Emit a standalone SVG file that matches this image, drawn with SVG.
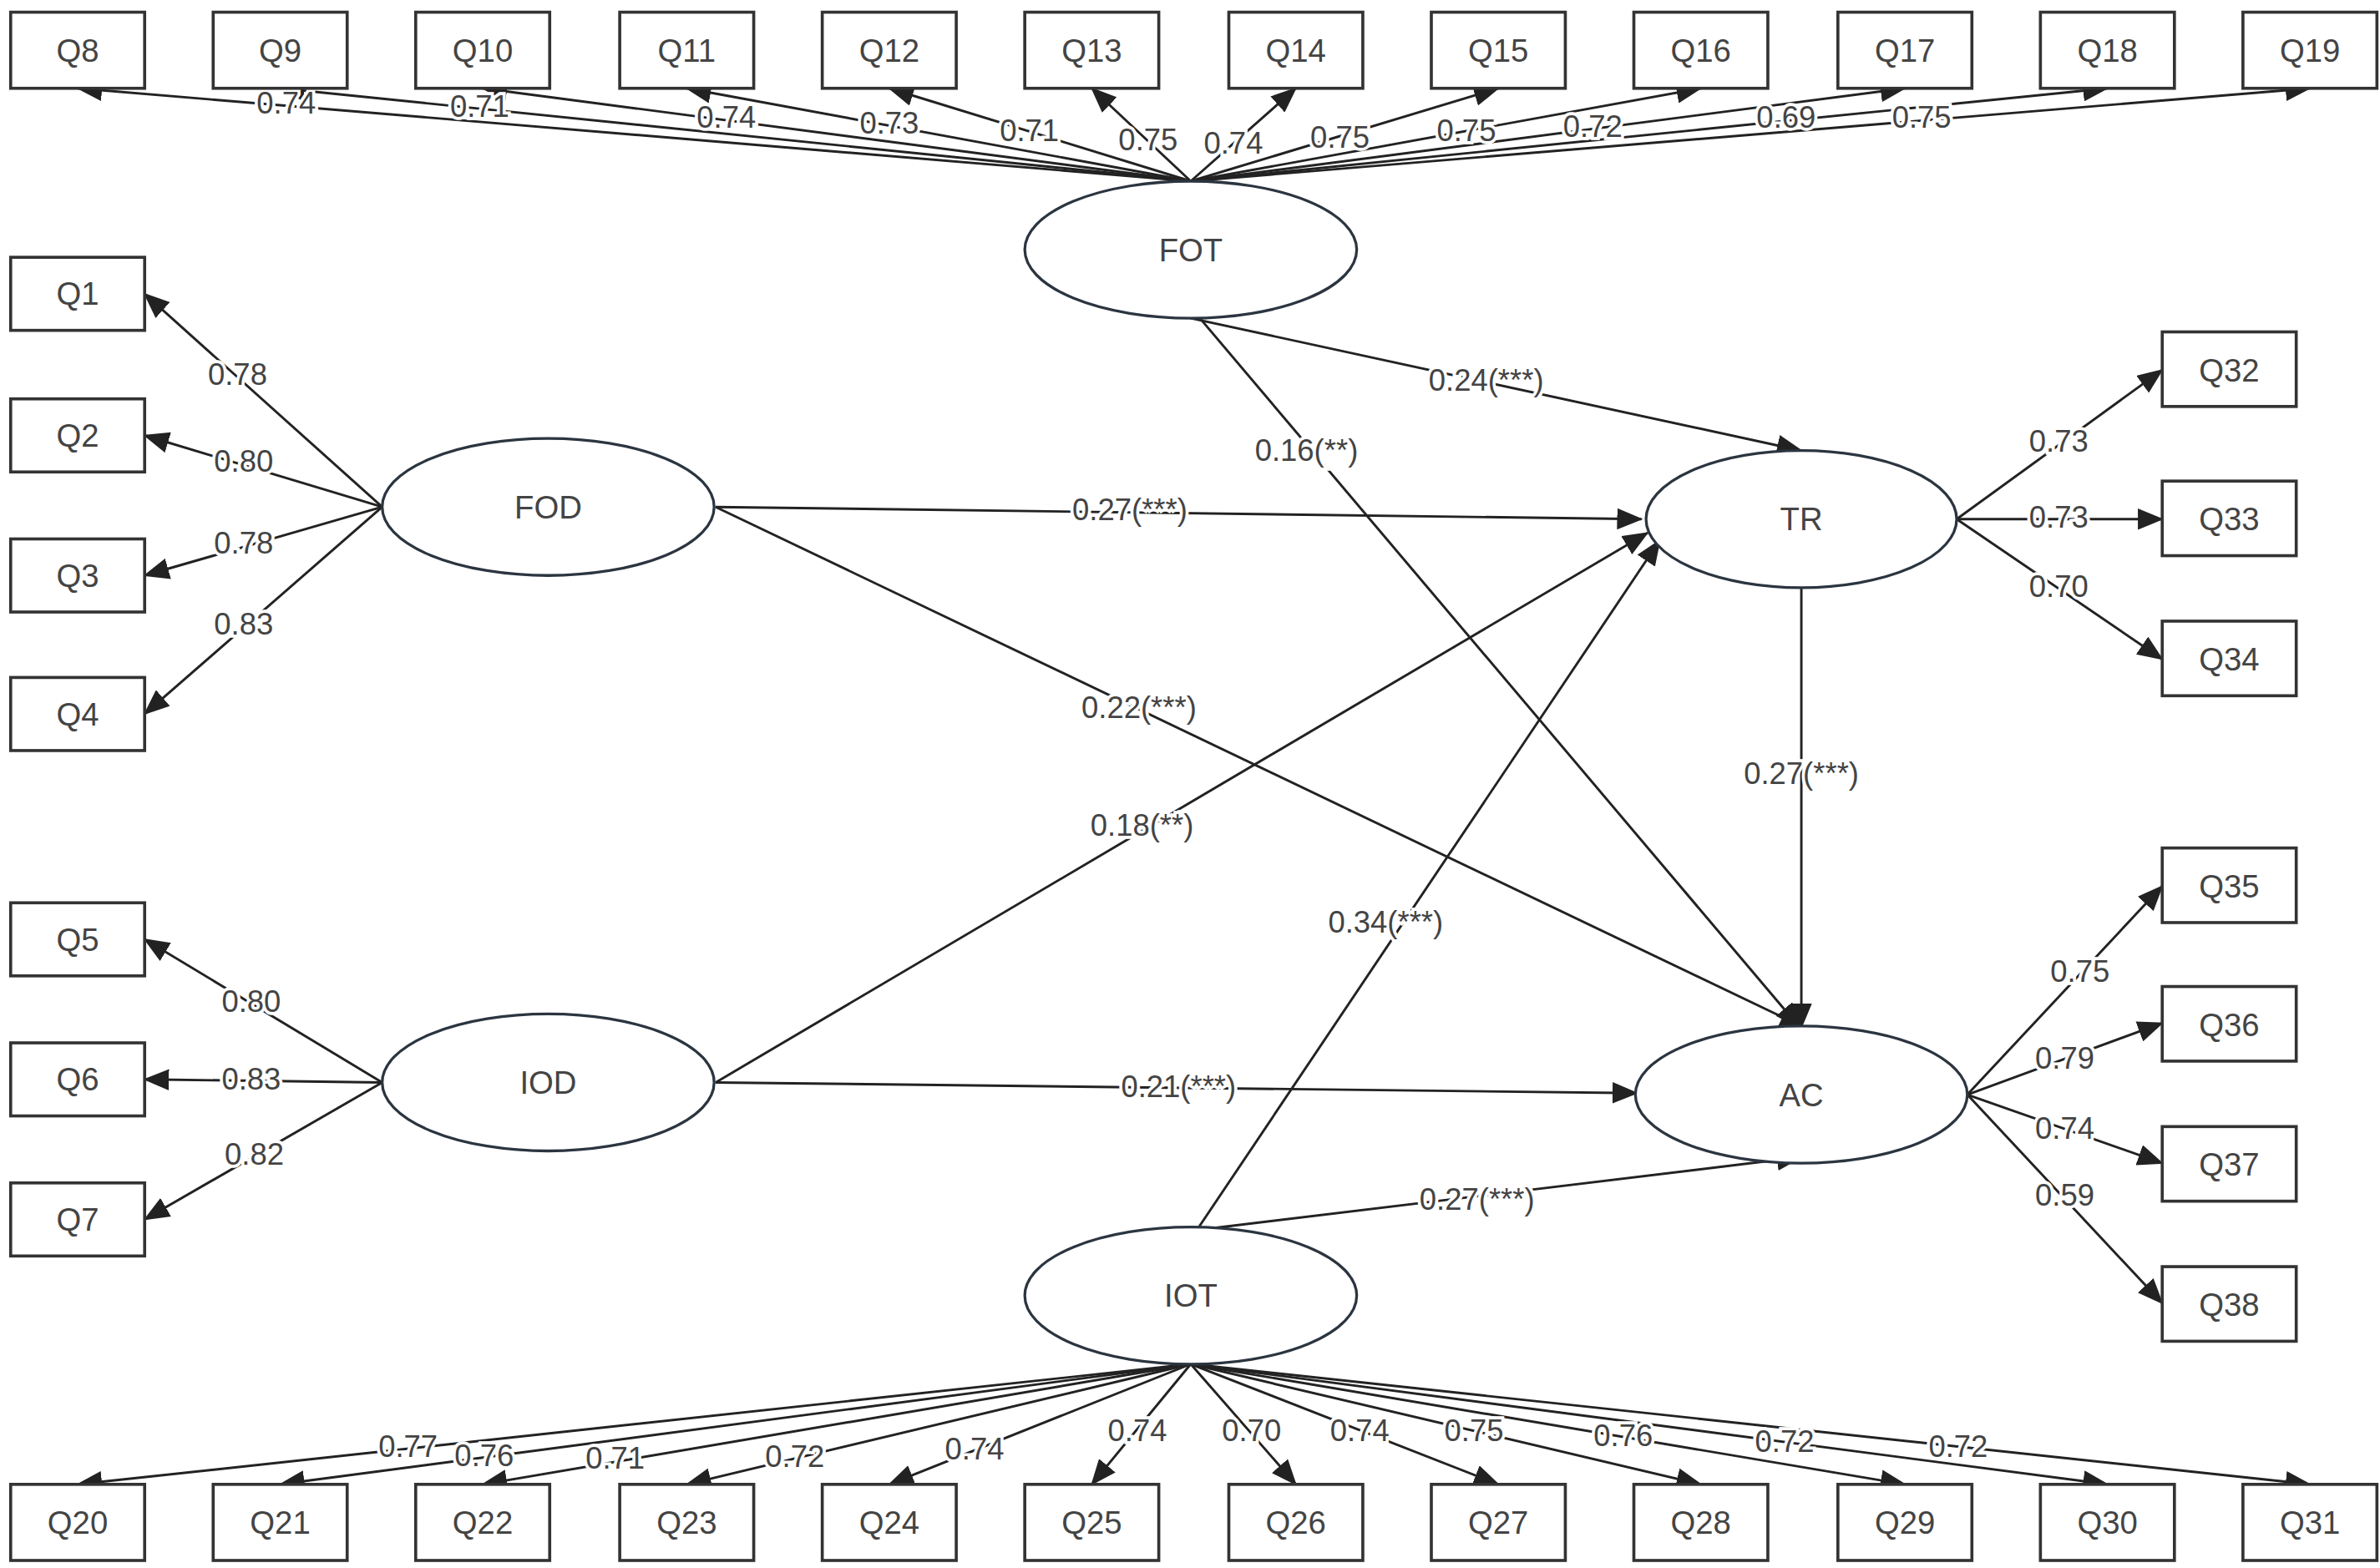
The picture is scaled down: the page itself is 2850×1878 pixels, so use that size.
<svg xmlns="http://www.w3.org/2000/svg" width="2850" height="1878" viewBox="0 0 2850 1878">
<style>
.b{fill:#fff;stroke:#333;stroke-width:2}
.e{fill:#fff;stroke:#2b3540;stroke-width:1.8}
.t{font-family:"Liberation Sans",Arial,sans-serif;font-size:21px;fill:#444;text-anchor:middle;dominant-baseline:central}
.l{font-family:"Liberation Sans",Arial,sans-serif;font-size:20px;fill:#444;text-anchor:middle;dominant-baseline:central;stroke:#fff;stroke-width:4;paint-order:stroke}
#c line{stroke:#222;stroke-width:1.6;marker-end:url(#a)}
</style>
<defs><marker id="a" markerUnits="userSpaceOnUse" markerWidth="18" markerHeight="14" refX="16" refY="7" orient="auto"><path d="M0,0 L17,7 L0,14 Z" fill="#222"/></marker></defs>
<rect width="2850" height="1878" fill="#fff"/>
<g transform="scale(1.8234)">
<g id="c">
<line x1="782" y1="119" x2="51" y2="58"/><line x1="782" y1="119" x2="184" y2="58"/><line x1="782" y1="119" x2="317" y2="58"/><line x1="782" y1="119" x2="451" y2="58"/><line x1="782" y1="119" x2="584" y2="58"/><line x1="782" y1="119" x2="717" y2="58"/><line x1="782" y1="119" x2="851" y2="58"/><line x1="782" y1="119" x2="984" y2="58"/><line x1="782" y1="119" x2="1117" y2="58"/><line x1="782" y1="119" x2="1251" y2="58"/><line x1="782" y1="119" x2="1384" y2="58"/><line x1="782" y1="119" x2="1517" y2="58"/>
<line x1="782" y1="896" x2="51" y2="975"/><line x1="782" y1="896" x2="184" y2="975"/><line x1="782" y1="896" x2="317" y2="975"/><line x1="782" y1="896" x2="451" y2="975"/><line x1="782" y1="896" x2="584" y2="975"/><line x1="782" y1="896" x2="717" y2="975"/><line x1="782" y1="896" x2="851" y2="975"/><line x1="782" y1="896" x2="984" y2="975"/><line x1="782" y1="896" x2="1117" y2="975"/><line x1="782" y1="896" x2="1251" y2="975"/><line x1="782" y1="896" x2="1384" y2="975"/><line x1="782" y1="896" x2="1517" y2="975"/>
<line x1="251" y1="333" x2="95" y2="193"/><line x1="251" y1="333" x2="95" y2="286"/><line x1="251" y1="333" x2="95" y2="378"/><line x1="251" y1="333" x2="95" y2="469"/>
<line x1="251" y1="711" x2="95" y2="617"/><line x1="251" y1="711" x2="95" y2="709"/><line x1="251" y1="711" x2="95" y2="801"/>
<line x1="1285" y1="341" x2="1420" y2="243"/><line x1="1285" y1="341" x2="1420" y2="341"/><line x1="1285" y1="341" x2="1420" y2="433"/>
<line x1="1292" y1="719" x2="1420" y2="582"/><line x1="1292" y1="719" x2="1420" y2="672"/><line x1="1292" y1="719" x2="1420" y2="764"/><line x1="1292" y1="719" x2="1420" y2="856"/>
<line x1="782" y1="209" x2="1183" y2="296"/><line x1="788" y1="209" x2="1182" y2="675"/><line x1="470" y1="333" x2="1078" y2="341"/><line x1="470" y1="333" x2="1185" y2="675"/><line x1="470" y1="711" x2="1082" y2="350"/><line x1="470" y1="711" x2="1075" y2="718"/><line x1="786" y1="808" x2="1090" y2="355"/><line x1="786" y1="808" x2="1183" y2="760"/><line x1="1183" y1="386" x2="1183" y2="675"/>
<g>
<text class="l" x="188" y="68">0.74</text><text class="l" x="315" y="70">0.71</text><text class="l" x="477" y="77">0.74</text><text class="l" x="584" y="81">0.73</text><text class="l" x="676" y="86">0.71</text><text class="l" x="754" y="92">0.75</text><text class="l" x="810" y="94">0.74</text><text class="l" x="880" y="90">0.75</text><text class="l" x="963" y="86">0.75</text><text class="l" x="1046" y="83">0.72</text><text class="l" x="1173" y="77">0.69</text><text class="l" x="1262" y="77">0.75</text>
<text class="l" x="268" y="950">0.77</text><text class="l" x="318" y="956">0.76</text><text class="l" x="404" y="958">0.71</text><text class="l" x="522" y="957">0.72</text><text class="l" x="640" y="952">0.74</text><text class="l" x="747" y="940">0.74</text><text class="l" x="822" y="940">0.70</text><text class="l" x="893" y="940">0.74</text><text class="l" x="968" y="940">0.75</text><text class="l" x="1066" y="943">0.76</text><text class="l" x="1172" y="947">0.72</text><text class="l" x="1286" y="950">0.72</text>
<text class="l" x="156" y="246">0.78</text><text class="l" x="160" y="303">0.80</text><text class="l" x="160" y="357">0.78</text><text class="l" x="160" y="410">0.83</text>
<text class="l" x="165" y="658">0.80</text><text class="l" x="165" y="709">0.83</text><text class="l" x="167" y="758">0.82</text>
<text class="l" x="1352" y="290">0.73</text><text class="l" x="1352" y="340">0.73</text><text class="l" x="1352" y="385">0.70</text>
<text class="l" x="1366" y="638">0.75</text><text class="l" x="1356" y="695">0.79</text><text class="l" x="1356" y="741">0.74</text><text class="l" x="1356" y="785">0.59</text>
<text class="l" x="976" y="250">0.24(***)</text><text class="l" x="858" y="296">0.16(**)</text><text class="l" x="742" y="335">0.27(***)</text><text class="l" x="748" y="465">0.22(***)</text><text class="l" x="750" y="542">0.18(**)</text><text class="l" x="774" y="714">0.21(***)</text><text class="l" x="910" y="606">0.34(***)</text><text class="l" x="970" y="788">0.27(***)</text><text class="l" x="1183" y="508">0.27(***)</text>
</g>
</g>
<g id="FOT"><ellipse class="e" cx="782" cy="164" rx="109" ry="45"/><text class="t" x="782" y="164">FOT</text></g>
<g id="FOD"><ellipse class="e" cx="360" cy="333" rx="109" ry="45"/><text class="t" x="360" y="333">FOD</text></g>
<g id="IOD"><ellipse class="e" cx="360" cy="711" rx="109" ry="45"/><text class="t" x="360" y="711">IOD</text></g>
<g id="IOT"><ellipse class="e" cx="782" cy="851" rx="109" ry="45"/><text class="t" x="782" y="851">IOT</text></g>
<g id="TR"><ellipse class="e" cx="1183" cy="341" rx="102" ry="45"/><text class="t" x="1183" y="341">TR</text></g>
<g id="AC"><ellipse class="e" cx="1183" cy="719" rx="109" ry="45"/><text class="t" x="1183" y="719">AC</text></g>
<g id="Q8"><rect class="b" x="7" y="8" width="88" height="50"/><text class="t" x="51" y="33">Q8</text></g>
<g id="Q9"><rect class="b" x="140" y="8" width="88" height="50"/><text class="t" x="184" y="33">Q9</text></g>
<g id="Q10"><rect class="b" x="273" y="8" width="88" height="50"/><text class="t" x="317" y="33">Q10</text></g>
<g id="Q11"><rect class="b" x="407" y="8" width="88" height="50"/><text class="t" x="451" y="33">Q11</text></g>
<g id="Q12"><rect class="b" x="540" y="8" width="88" height="50"/><text class="t" x="584" y="33">Q12</text></g>
<g id="Q13"><rect class="b" x="673" y="8" width="88" height="50"/><text class="t" x="717" y="33">Q13</text></g>
<g id="Q14"><rect class="b" x="807" y="8" width="88" height="50"/><text class="t" x="851" y="33">Q14</text></g>
<g id="Q15"><rect class="b" x="940" y="8" width="88" height="50"/><text class="t" x="984" y="33">Q15</text></g>
<g id="Q16"><rect class="b" x="1073" y="8" width="88" height="50"/><text class="t" x="1117" y="33">Q16</text></g>
<g id="Q17"><rect class="b" x="1207" y="8" width="88" height="50"/><text class="t" x="1251" y="33">Q17</text></g>
<g id="Q18"><rect class="b" x="1340" y="8" width="88" height="50"/><text class="t" x="1384" y="33">Q18</text></g>
<g id="Q19"><rect class="b" x="1473" y="8" width="88" height="50"/><text class="t" x="1517" y="33">Q19</text></g>
<g id="Q20"><rect class="b" x="7" y="975" width="88" height="50"/><text class="t" x="51" y="1000">Q20</text></g>
<g id="Q21"><rect class="b" x="140" y="975" width="88" height="50"/><text class="t" x="184" y="1000">Q21</text></g>
<g id="Q22"><rect class="b" x="273" y="975" width="88" height="50"/><text class="t" x="317" y="1000">Q22</text></g>
<g id="Q23"><rect class="b" x="407" y="975" width="88" height="50"/><text class="t" x="451" y="1000">Q23</text></g>
<g id="Q24"><rect class="b" x="540" y="975" width="88" height="50"/><text class="t" x="584" y="1000">Q24</text></g>
<g id="Q25"><rect class="b" x="673" y="975" width="88" height="50"/><text class="t" x="717" y="1000">Q25</text></g>
<g id="Q26"><rect class="b" x="807" y="975" width="88" height="50"/><text class="t" x="851" y="1000">Q26</text></g>
<g id="Q27"><rect class="b" x="940" y="975" width="88" height="50"/><text class="t" x="984" y="1000">Q27</text></g>
<g id="Q28"><rect class="b" x="1073" y="975" width="88" height="50"/><text class="t" x="1117" y="1000">Q28</text></g>
<g id="Q29"><rect class="b" x="1207" y="975" width="88" height="50"/><text class="t" x="1251" y="1000">Q29</text></g>
<g id="Q30"><rect class="b" x="1340" y="975" width="88" height="50"/><text class="t" x="1384" y="1000">Q30</text></g>
<g id="Q31"><rect class="b" x="1473" y="975" width="88" height="50"/><text class="t" x="1517" y="1000">Q31</text></g>
<g id="Q1"><rect class="b" x="7" y="169" width="88" height="48"/><text class="t" x="51" y="193">Q1</text></g>
<g id="Q2"><rect class="b" x="7" y="262" width="88" height="48"/><text class="t" x="51" y="286">Q2</text></g>
<g id="Q3"><rect class="b" x="7" y="354" width="88" height="48"/><text class="t" x="51" y="378">Q3</text></g>
<g id="Q4"><rect class="b" x="7" y="445" width="88" height="48"/><text class="t" x="51" y="469">Q4</text></g>
<g id="Q5"><rect class="b" x="7" y="593" width="88" height="48"/><text class="t" x="51" y="617">Q5</text></g>
<g id="Q6"><rect class="b" x="7" y="685" width="88" height="48"/><text class="t" x="51" y="709">Q6</text></g>
<g id="Q7"><rect class="b" x="7" y="777" width="88" height="48"/><text class="t" x="51" y="801">Q7</text></g>
<g id="Q32"><rect class="b" x="1420" y="218" width="88" height="49"/><text class="t" x="1464" y="243">Q32</text></g>
<g id="Q33"><rect class="b" x="1420" y="316" width="88" height="49"/><text class="t" x="1464" y="341">Q33</text></g>
<g id="Q34"><rect class="b" x="1420" y="408" width="88" height="49"/><text class="t" x="1464" y="433">Q34</text></g>
<g id="Q35"><rect class="b" x="1420" y="557" width="88" height="49"/><text class="t" x="1464" y="582">Q35</text></g>
<g id="Q36"><rect class="b" x="1420" y="648" width="88" height="49"/><text class="t" x="1464" y="673">Q36</text></g>
<g id="Q37"><rect class="b" x="1420" y="740" width="88" height="49"/><text class="t" x="1464" y="765">Q37</text></g>
<g id="Q38"><rect class="b" x="1420" y="832" width="88" height="49"/><text class="t" x="1464" y="857">Q38</text></g>
</g>
</svg>
